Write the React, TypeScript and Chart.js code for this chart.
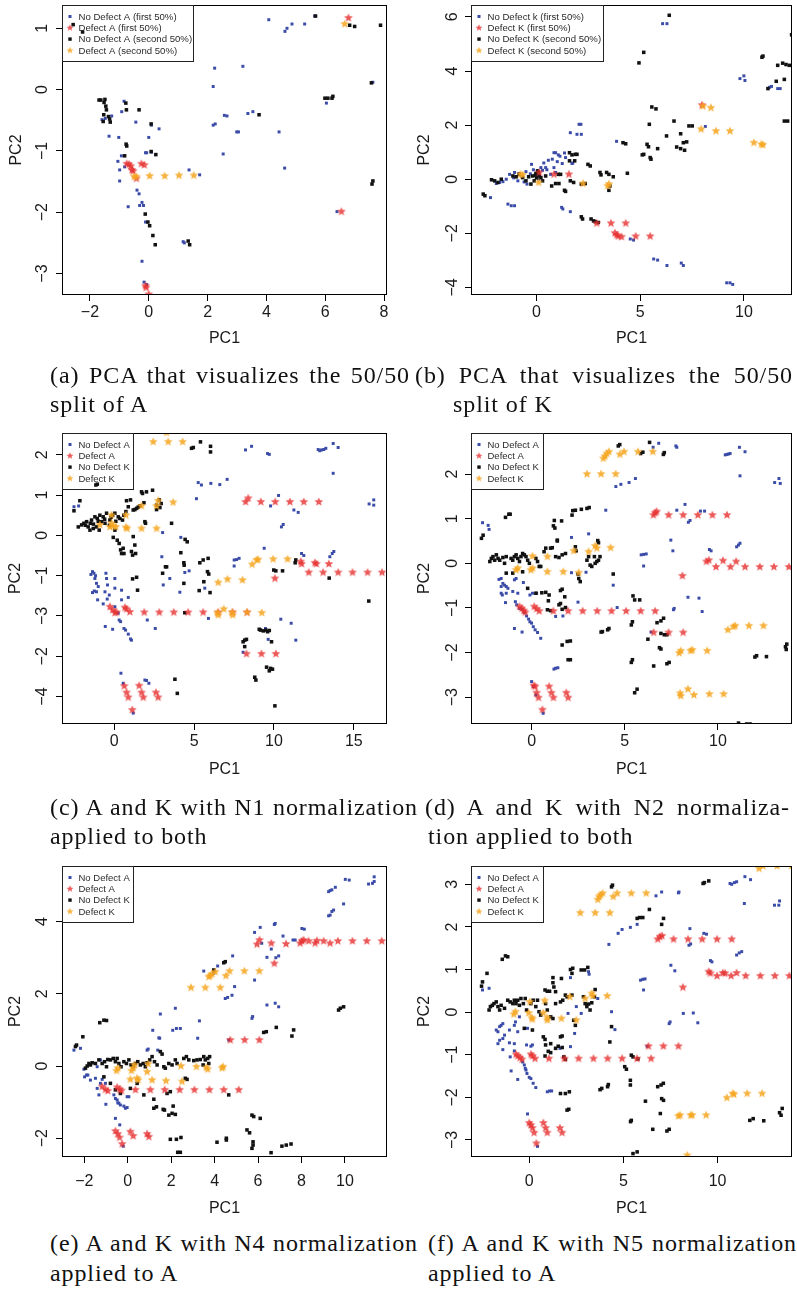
import React, { useEffect, useRef } from "react";
import { Chart, registerables } from "chart.js";
Chart.register(...registerables);

type P = [number, number];

// ---------------- Panel (a) ----------------
const aNoDefectFirst: P[] = [[4.08,1.14],[4.63,0.95],[4.70,1.0],[4.87,1.07],[5.30,1.07],[5.64,1.2],[2.24,0.35],[3.2,0.38],[2.19,0.05],[7.62,0.12],[6.04,-0.22],[2.19,-0.58],[2.26,-0.56],[2.57,-0.42],[2.66,-0.43],[3.37,-0.39],[3.54,-0.36],[2.99,-0.69],[3.05,-0.69],[4.43,-0.69],[2.53,-1.05],[4.62,-1.28],[6.4,-1.99],[0.35,-0.64],[0.09,-0.58],[0.0,-0.78],[-0.44,-0.53],[-0.11,-1.03],[-0.07,-1.03],[0.09,-1.02],[-0.84,-0.19],[-0.92,-0.36],[-1.26,-0.43],[-1.59,-0.49],[-1.48,-0.47],[-1.35,-0.76],[-1.02,-0.78],[-0.93,-1.08],[-1.05,-1.17],[-0.99,-1.31],[-0.82,-1.26],[-0.99,-1.49],[-0.70,-1.91],[-0.40,-1.64],[-0.33,-1.70],[-0.31,-1.89],[-0.23,-1.84],[-0.18,-1.89],[-0.11,-2.16],[1.17,-2.48],[1.21,-2.5],[1.37,-1.31],[1.73,-1.39],[-0.23,-2.80],[-0.16,-3.14],[-0.07,-3.18]];
const aDefectFirst: P[] = [[6.79,1.17],[-0.75,-1.21],[-0.67,-1.22],[-0.61,-1.25],[-0.57,-1.31],[-0.53,-1.33],[-0.42,-1.45],[-0.25,-1.21],[-0.15,-1.23],[6.55,-1.99],[-0.11,-3.2],[-0.09,-3.23],[0.0,-3.34]];
const aNoDefectSecond: P[] = [[-2.57,1.06],[-2.25,0.94],[5.67,1.2],[6.83,1.05],[7.0,1.03],[7.88,1.05],[7.57,0.11],[5.99,-0.14],[6.09,-0.14],[6.23,-0.14],[6.26,-0.11],[3.75,-0.41],[7.59,-1.54],[7.62,-1.49],[-1.69,-0.17],[-1.63,-0.17],[-1.49,-0.16],[-1.52,-0.21],[-1.46,-0.27],[-1.44,-0.33],[-1.53,-0.41],[-1.55,-0.52],[-1.37,-0.44],[-1.33,-0.48],[-1.31,-0.53],[-0.78,-0.22],[-0.76,-0.33],[-0.33,-0.33],[0.08,-0.56],[-0.77,-0.89],[-0.75,-0.92],[-0.82,-1.08],[0.08,-1.01],[0.24,-1.06],[-0.12,-2.03],[-0.03,-2.16],[0.03,-2.22],[0.14,-2.38],[0.22,-2.53],[1.34,-2.47],[1.39,-2.53]];
const aDefectSecond: P[] = [[6.66,1.07],[-0.5,-1.42],[-0.42,-1.42],[0.03,-1.41],[0.54,-1.41],[1.03,-1.40],[1.53,-1.40]];

// ---------------- Panel (b) ----------------
const bNoDefectFirst: P[] = [[6.08,5.75],[6.29,5.75],[9.81,3.72],[10.0,3.82],[10.05,3.65],[11.24,3.40],[11.33,3.43],[11.63,3.35],[11.75,3.35],[2.05,2.03],[2.14,2.03],[1.63,1.72],[1.95,1.66],[2.16,1.66],[3.86,1.40],[8.14,1.95],[0.84,0.98],[0.92,0.98],[1.05,0.90],[1.13,0.85],[1.35,0.97],[0.76,0.74],[0.57,0.70],[0.84,0.43],[0.44,0.43],[0.21,0.43],[-0.24,0.55],[-0.51,0.28],[-0.86,0.21],[-1.06,0.25],[-1.30,0.18],[-1.46,0],[-1.78,-0.12],[-1.94,-0.16],[-1.62,-0.09],[-0.90,-0.06],[-0.46,-0.18],[0.02,0.18],[0.29,0.33],[0.68,0.18],[0.92,0.25],[1.24,0.58],[1.71,0.58],[1.75,0.60],[-2.22,-0.68],[-1.38,-0.92],[-1.22,-0.98],[-1.06,-0.98],[1.21,-1.04],[1.27,-1.1],[1.63,-1.2],[4.52,-2.21],[4.68,-2.25],[5.65,-2.95],[5.84,-2.99],[6.29,-3.19],[6.98,-3.1],[7.08,-3.19],[9.17,-3.83],[9.33,-3.83],[9.46,-3.89],[-0.7,0.1],[-0.3,0.2],[0.1,0.0],[0.5,0.35],[-1.1,0.05],[-0.6,-0.1],[1.0,0.65],[0.35,0.6],[-0.15,0.35],[1.4,0.8]];
const bDefectFirst: P[] = [[7.98,2.74],[0.84,0.18],[1.56,0.18],[2.90,-1.63],[3.59,-1.63],[4.30,-1.63],[3.78,-1.99],[3.86,-2.06],[3.94,-2.11],[4.10,-2.13],[4.78,-2.11],[5.48,-2.11],[0.13,0.25]];
const bNoDefectSecond: P[] = [[6.40,6.06],[12.3,5.34],[4.94,4.30],[5.17,4.69],[10.87,4.51],[10.92,4.55],[11.63,4.21],[11.87,4.29],[12.03,4.24],[12.19,4.21],[11.56,3.62],[11.95,3.69],[11.16,3.35],[11.95,2.15],[12.11,2.15],[5.56,2.67],[5.76,2.60],[5.44,2.03],[6.63,2.15],[7.35,1.97],[7.51,1.97],[6.95,1.68],[6.27,1.60],[7.08,1.35],[7.24,1.38],[6.76,1.19],[6.95,1.13],[7.14,1.07],[4.17,1.35],[4.30,1.31],[5.33,1.29],[5.40,1.2],[5.84,1.13],[5.48,0.8],[5.17,0.92],[5.10,0.9],[5.52,0.74],[4.38,0.22],[1.59,0.98],[1.71,0.90],[1.87,0.92],[1.95,0.92],[1.59,0.68],[1.84,0.68],[2.48,0.55],[2.59,0.49],[-2.57,-0.55],[-2.49,-0.61],[-2.17,-0.02],[-2.02,-0.06],[-1.86,-0.12],[-1.70,0],[-0.19,0.12],[-0.03,0.21],[0.05,0.31],[0.13,0.12],[0.21,0.06],[-0.11,-0.06],[-0.27,-0.18],[0.29,-0.06],[0.44,0.12],[0.73,-0.25],[0.92,-0.16],[1.08,-0.16],[1.05,0.18],[1.16,0.18],[1.35,-0.41],[1.40,-0.45],[1.63,-0.06],[1.79,-0.12],[2.16,-0.18],[2.35,-0.16],[3.06,0.25],[3.11,0.16],[3.38,0.25],[3.49,0.18],[3.70,0.09],[3.54,-0.25],[3.49,-0.41],[2.16,-1.39],[2.22,-1.47],[2.63,-1.47],[2.75,-1.54],[2.83,-1.57],[2.98,-1.6],[-0.83,0.18],[-0.67,0.06],[-0.38,0.09],[-0.51,-0.06],[-0.98,0.09],[-1.14,0.12],[0.0,0.05],[0.1,0.25],[-0.05,0.15]];
const bDefectSecond: P[] = [[8.03,2.70],[8.41,2.64],[7.94,1.85],[8.65,1.78],[9.33,1.78],[10.48,1.35],[10.84,1.29],[10.92,1.27],[-0.78,0.18],[-0.67,0.16],[0.10,-0.12],[2.24,-0.16],[3.43,-0.25],[3.49,-0.18]];

// ---------------- Panel (c) ----------------
const cNoDefectA: P[] = [[8.22,2.12],[8.60,2.21],[9.60,2.03],[9.71,2.01],[12.77,2.13],[12.87,2.10],[12.98,2.12],[13.12,2.13],[13.25,2.16],[13.71,2.28],[14.02,2.18],[13.71,1.54],[15.96,0.78],[16.25,0.88],[16.25,0.75],[5.26,1.31],[5.46,1.25],[6.05,1.29],[6.61,1.26],[7.07,1.39],[5.15,0.91],[10.29,0.99],[9.79,0.73],[10.47,0.21],[10.58,0.27],[11.25,0.63],[11.52,0.57],[3.03,0.07],[4.17,-0.05],[2.98,-0.53],[9.39,-0.32],[11.73,-0.45],[11.87,-0.50],[13.50,-0.53],[13.65,-0.45],[13.75,-0.40],[7.51,-0.61],[7.66,-0.60],[7.82,-0.57],[7.51,-0.76],[4.42,-0.92],[4.69,-0.88],[3.07,-1.23],[3.48,-1.07],[5.67,-1.31],[4.11,-1.41],[-1.46,-0.97],[-1.36,-0.90],[-1.27,-0.94],[-1.17,-1.0],[-1.21,-1.07],[-1.11,-1.19],[-1.0,-1.27],[-1.36,-1.42],[-1.25,-1.38],[-1.11,-1.40],[-1.04,-1.60],[-0.52,-0.94],[-0.48,-1.07],[-0.42,-1.23],[-0.58,-1.40],[-0.44,-1.58],[-0.69,-1.70],[0.04,-1.07],[0.04,-1.31],[-0.31,-1.48],[0.46,-1.36],[0.46,-1.60],[0.88,-1.54],[0.04,-1.77],[0.25,-1.93],[0.31,-2.10],[0.40,-2.14],[0.61,-2.31],[0.71,-2.35],[0.88,-2.45],[1.02,-2.57],[1.08,-2.60],[-0.56,-2.26],[-0.10,-2.33],[2.07,-2.10],[2.57,-2.31],[0.42,-3.42],[0.56,-3.67],[1.92,-3.59],[2.02,-3.60],[2.17,-3.67],[1.19,-4.41],[5.90,-2.06],[10.43,-2.08],[11.08,-2.18],[11.37,-2.60],[9.47,-2.31],[9.64,-2.58],[8.07,-2.90],[-2.52,0.71],[-2.23,0.73]];
const cDefectA: P[] = [[8.22,0.83],[8.39,0.92],[9.18,0.83],[10.08,0.83],[11.0,0.83],[11.87,0.83],[12.81,0.83],[11.68,-0.65],[11.73,-0.71],[12.56,-0.68],[12.66,-0.71],[13.44,-0.71],[12.18,-0.92],[13.08,-0.92],[14.02,-0.92],[14.92,-0.92],[15.86,-0.92],[16.77,-0.92],[10.06,-1.07],[-0.27,-1.77],[-0.10,-1.85],[0.04,-1.92],[0.15,-1.91],[0.67,-1.79],[0.77,-1.83],[0.98,-1.90],[1.88,-1.91],[2.82,-1.91],[3.73,-1.91],[4.63,-1.91],[5.57,-1.91],[6.51,-1.91],[7.41,-1.91],[8.32,-1.91],[8.28,-2.94],[9.22,-2.94],[10.12,-2.94],[0.63,-3.74],[0.77,-3.90],[0.88,-4.02],[1.56,-3.73],[1.71,-3.90],[1.82,-4.02],[2.61,-3.90],[2.75,-4.02],[1.13,-4.33]];
const cNoDefectK: P[] = [[-2.52,0.61],[-2.15,0.86],[-2.25,0.21],[-2.04,0.26],[-1.90,0.30],[-1.73,0.34],[-1.63,0.21],[-1.42,0.38],[-1.21,0.46],[-1.06,0.42],[-0.90,0.50],[-0.69,0.46],[-0.48,0.55],[-0.79,0.34],[-0.58,0.30],[-1.11,0.21],[-1.31,0.17],[-1.52,0.13],[-0.94,0.13],[-0.27,0.38],[-0.10,0.50],[0.04,0.55],[0.25,0.46],[0.35,0.42],[0.52,0.38],[0.73,0.59],[0.88,0.71],[0.77,0.86],[1.02,0.88],[1.19,0.63],[1.29,0.64],[1.40,0.67],[1.61,0.73],[1.71,1.08],[1.77,1.04],[2.02,1.08],[2.40,1.12],[1.86,0.81],[2.82,0.88],[2.94,0.79],[2.86,0.69],[2.65,0.75],[2.65,0.64],[1.92,0.34],[1.96,0.30],[0.04,0.13],[-0.06,-0.05],[0.19,-0.12],[0.31,-0.20],[0.40,-0.36],[0.56,-0.32],[0.61,-0.45],[0.46,-0.45],[1.08,-0.40],[1.19,-0.03],[1.29,-0.24],[1.15,-0.49],[1.34,-0.45],[-1.15,1.25],[-1.06,1.27],[3.59,0.30],[4.44,-0.10],[4.57,-0.16],[4.17,-0.43],[4.36,-0.68],[4.38,-0.74],[4.84,2.16],[4.95,2.18],[5.40,2.32],[6.03,2.21],[6.03,2.07],[4.36,-1.19],[5.36,-0.68],[5.57,-0.61],[5.88,-0.57],[5.84,-0.90],[5.92,-0.96],[5.32,-1.37],[5.61,-1.15],[6.0,-1.42],[3.03,-0.94],[3.28,-0.78],[3.21,-0.78],[1.40,-1.04],[1.15,-1.08],[1.46,-1.36],[4.42,-1.92],[3.80,-3.57],[3.95,-3.92],[9.99,-0.86],[10.12,-0.88],[10.54,-0.88],[11.33,-0.68],[11.37,-0.61],[13.46,-1.06],[15.94,-1.63],[8.07,-2.64],[8.17,-2.60],[8.28,-2.58],[8.17,-2.76],[9.16,-2.35],[9.33,-2.37],[9.49,-2.35],[9.60,-2.39],[9.71,-2.36],[9.85,-2.64],[9.54,-3.27],[9.79,-3.30],[9.91,-3.32],[9.71,-3.36],[8.80,-3.52],[8.87,-3.59],[10.06,-4.23],[9.08,-2.33],[-1.8,0.25],[-1.5,0.3],[-1.0,0.35],[-0.3,0.25],[0.1,0.35],[-0.6,0.4],[-1.3,0.28],[-0.2,0.45],[0.6,0.5],[1.5,0.7]];
const cDefectK: P[] = [[2.44,2.32],[3.38,2.32],[4.28,2.32],[3.28,2.55],[2.75,0.86],[2.65,0.73],[3.69,0.82],[1.71,0.73],[-0.17,0.50],[0.73,0.50],[-0.90,0.26],[-0.27,0.21],[-0.06,0.23],[0.10,0.21],[0.73,0.20],[0.81,0.17],[1.71,0.17],[2.65,0.17],[-0.17,0.30],[8.64,-0.72],[8.91,-0.61],[9.01,-0.60],[9.95,-0.59],[10.85,-0.59],[6.51,-1.17],[7.09,-1.09],[8.03,-1.11],[6.47,-1.92],[6.51,-1.98],[6.86,-1.83],[7.39,-1.91],[7.41,-1.98],[8.32,-1.91],[9.24,-1.92]];

// ---------------- Panel (d) ----------------
const dNoDefectA: P[] = [[6.52,2.60],[6.82,2.69],[7.74,2.63],[7.79,2.60],[10.39,2.43],[10.48,2.44],[10.57,2.45],[10.65,2.46],[11.15,2.60],[11.45,2.50],[11.18,1.96],[13.04,1.81],[13.27,1.90],[13.34,1.79],[4.52,1.72],[4.79,1.77],[5.23,1.81],[5.57,1.90],[3.98,1.19],[7.79,1.19],[8.23,1.32],[8.41,0.92],[8.50,0.96],[9.06,1.17],[9.28,1.17],[2.14,0.58],[3.06,0.66],[7.47,0.52],[7.58,0.28],[5.88,0.19],[6.01,0.20],[6.15,0.21],[6.01,-0.06],[9.54,0.31],[9.63,0.28],[11.0,0.37],[11.10,0.41],[11.18,0.45],[2.14,-0.21],[2.92,-0.20],[4.38,-0.49],[2.49,-0.87],[4.59,-0.99],[7.65,-1.01],[7.61,-1.04],[8.39,-0.76],[8.98,-0.78],[9.15,-1.08],[6.41,-1.54],[1.29,-1.19],[1.68,-1.18],[1.20,-2.37],[1.29,-2.35],[1.41,-2.34],[0,-2.65],[0.09,-2.76],[0.23,-2.95],[0.62,-3.36],[-2.63,0.91],[-2.33,0.85],[-2.28,0.76],[-1.75,-0.36],[-1.63,-0.34],[-1.54,-0.45],[-1.45,-0.49],[-1.36,-0.52],[-1.27,-0.56],[-1.63,-0.67],[-1.57,-0.71],[-1.36,-0.67],[-1.40,-0.88],[-0.92,-0.37],[-0.83,-0.34],[-1.01,-0.63],[-0.74,-0.67],[-0.87,-0.86],[-0.80,-0.93],[-0.65,-1.01],[-0.51,-1.03],[-0.44,-0.43],[-0.39,-1.10],[-0.27,-1.18],[-0.16,-1.25],[-0.09,-1.31],[0,-1.34],[0.09,-1.42],[0.19,-1.49],[0.32,-1.55],[0.49,-1.68],[-0.09,-0.71],[0.05,-0.67],[0.27,-0.67],[-0.92,-1.46],[-0.51,-1.54],[-1.63,-0.52]];
const dDefectA: P[] = [[6.54,1.08],[6.63,1.13],[6.71,1.16],[7.35,1.08],[8.13,1.08],[8.92,1.08],[9.70,1.08],[10.48,1.08],[9.38,0.04],[9.51,0.07],[10.27,0.06],[10.97,0.04],[9.89,-0.08],[10.67,-0.08],[11.45,-0.08],[12.24,-0.08],[13.0,-0.08],[13.80,-0.08],[8.09,-0.28],[-0.65,-0.97],[-0.53,-1.01],[-0.42,-1.06],[-0.34,-1.10],[0.14,-0.97],[0.27,-1.02],[0.41,-1.07],[1.17,-1.07],[1.96,-1.07],[2.74,-1.07],[3.52,-1.07],[4.29,-1.07],[5.07,-1.07],[5.85,-1.07],[6.63,-1.07],[6.55,-1.55],[7.35,-1.55],[8.13,-1.55],[0.11,-2.74],[0.19,-2.76],[0.27,-2.90],[0.37,-3.01],[0.94,-2.76],[1.06,-2.90],[1.17,-3.01],[1.86,-2.90],[1.96,-3.01],[0.58,-3.28]];
const dNoDefectK: P[] = [[6.33,2.71],[5.97,2.49],[5.85,2.46],[7.07,2.44],[7.12,2.48],[4.65,2.63],[4.73,2.66],[2.21,1.18],[2.17,1.08],[2.35,1.19],[2.67,1.21],[2.97,1.23],[3.09,1.25],[-1.40,1.03],[-1.22,1.10],[-1.15,1.10],[-2.60,0.63],[-2.69,0.56],[1.22,0.96],[1.61,0.95],[1.17,0.84],[1.25,0.79],[1.38,0.52],[1.38,0.50],[3.55,0.51],[3.59,0.46],[2.35,0.37],[2.39,0.28],[-2.24,0.04],[-2.16,0.11],[-2.07,0.15],[-1.98,0.07],[-1.89,0.19],[-1.80,0.11],[-1.71,0.07],[-1.54,0.13],[-1.36,0.15],[-1.10,0.11],[-1.01,0.07],[-0.92,0.15],[-0.83,0.19],[-0.74,0.11],[-0.65,0.04],[-0.57,0.15],[-0.48,0.22],[-0.39,0.19],[-0.30,0.15],[-0.21,0.07],[-0.12,0],[0.23,0.11],[0.32,0.04],[0.41,-0.07],[0.49,-0.07],[0.67,0.26],[0.76,0.34],[1.02,0.34],[1.11,0.35],[1.29,0.15],[1.47,0.13],[1.64,0.19],[1.82,0.22],[-1.45,0],[-1.36,-0.22],[-1.01,-0.22],[-0.48,-0.19],[-0.21,-0.56],[0.23,-0.67],[0.55,-0.66],[0.76,-0.65],[0.94,-0.71],[0.90,-0.84],[0.85,-1.04],[1.02,-1.06],[1.47,-0.93],[1.55,-0.61],[1.64,-0.58],[1.78,-0.75],[1.55,-0.90],[1.64,-1.03],[1.82,-0.99],[2.49,-0.24],[2.53,-0.34],[2.61,-0.41],[3.14,-0.04],[3.23,-0.07],[3.37,0.15],[3.41,0],[3.50,0.04],[3.59,0.07],[3.67,0.15],[3.06,0.15],[2.97,0.07],[4.38,-0.24],[3.73,-1.54],[3.80,-1.53],[4.08,-1.49],[4.15,-1.46],[1.64,-1.83],[1.91,-1.75],[2.08,-1.74],[1.96,-2.16],[2.08,-2.16],[5.44,-0.73],[5.53,-0.82],[5.80,-0.82],[5.35,-1.38],[5.41,-1.31],[6.24,-1.70],[6.73,-1.33],[6.94,-1.29],[7.08,-1.23],[6.94,-1.57],[7.12,-1.60],[7.26,-1.60],[6.86,-1.89],[6.94,-1.92],[5.41,-2.16],[5.35,-2.22],[6.55,-2.30],[7.26,-2.25],[7.38,-2.22],[5.53,-2.90],[5.66,-2.82],[11.98,-2.10],[12.07,-2.07],[12.60,-2.09],[13.62,-1.87],[13.66,-1.93],[13.69,-1.81],[11.10,-3.58],[11.54,-3.60],[11.72,-3.60]];
const dDefectK: P[] = [[2.97,2.0],[3.73,2.0],[4.51,2.0],[3.85,2.35],[3.94,2.40],[4.03,2.46],[4.15,2.50],[4.73,2.44],[4.96,2.50],[5.71,2.50],[6.50,2.50],[-0.83,-0.15],[-0.74,-0.11],[-0.04,-0.15],[0.05,-0.11],[0.05,0.16],[0.85,-0.19],[0.85,0.15],[1.70,-0.19],[2.26,0.28],[3.06,0.26],[3.41,0.39],[3.50,0.34],[4.24,0.35],[2.53,-0.21],[10.53,-1.49],[10.83,-1.42],[10.92,-1.40],[11.66,-1.40],[12.44,-1.40],[7.92,-2.01],[8.00,-1.96],[8.53,-1.96],[8.62,-1.94],[9.42,-1.96],[7.97,-2.91],[8.00,-2.97],[8.39,-2.82],[8.71,-2.95],[9.54,-2.93],[10.30,-2.93]];

// ---------------- Panel (e) ----------------
const eNoDefectA: P[] = [[10.02,5.17],[10.20,5.15],[11.09,5.04],[11.27,5.06],[11.35,5.11],[11.35,5.24],[9.25,4.83],[9.32,4.86],[9.40,4.88],[9.56,4.95],[9.94,4.49],[9.25,4.16],[9.32,4.18],[9.40,4.28],[9.48,4.32],[5.84,3.70],[6.10,3.84],[6.75,3.92],[6.79,3.95],[7.15,3.60],[7.61,3.49],[7.71,3.49],[8.02,3.81],[8.13,3.79],[6.17,3.40],[6.61,3.24],[6.41,3.01],[6.82,3.0],[6.95,3.05],[4.83,3.05],[3.50,2.63],[4.14,2.77],[3.96,2.57],[4.92,2.20],[4.49,1.87],[4.60,1.90],[4.80,1.96],[5.84,2.38],[5.72,1.32],[5.75,1.37],[6.41,1.69],[6.79,1.74],[6.95,1.64],[2.19,1.60],[1.50,1.44],[3.30,1.25],[1.15,0.99],[2.07,0.99],[2.24,1.04],[2.42,1.04],[3.22,0.77],[1.43,0.78],[1.47,0.77],[0.89,0.44],[0.94,0.47],[1.38,0.44],[4.65,0.72],[-2.48,0.44],[-2.18,0.49],[-2.02,-0.09],[-1.99,-0.30],[-1.90,-0.25],[-1.84,-0.25],[-1.72,-0.39],[-1.49,-0.34],[-1.41,-0.02],[-1.26,0.17],[-1.41,-0.62],[-1.33,-0.80],[-1.26,-0.48],[-1.18,-0.37],[-1.01,-1.06],[-1.03,-0.48],[-0.64,-0.80],[-0.57,-0.90],[-0.49,-0.94],[-0.46,-1.02],[-0.41,-1.03],[-0.34,-1.08],[-0.18,-1.11],[-0.11,-1.17],[-0.03,-1.15],[-0.03,-0.85],[0.05,-0.85],[-0.57,-1.45],[-0.37,-1.63],[-0.21,-2.22]];
const eDefectA: P[] = [[6.07,3.49],[5.95,3.37],[6.61,3.40],[7.29,3.38],[7.94,3.40],[8.02,3.46],[8.10,3.49],[8.33,3.46],[8.63,3.40],[8.71,3.47],[9.02,3.46],[9.32,3.40],[9.68,3.46],[10.35,3.46],[11.01,3.46],[11.70,3.46],[6.75,2.84],[4.72,0.72],[5.38,0.72],[6.06,0.72],[-1.18,-0.57],[-1.03,-0.65],[-0.92,-0.69],[-0.49,-0.59],[-0.37,-0.65],[-0.29,-0.68],[0.35,-0.66],[1.04,-0.66],[1.70,-0.66],[2.39,-0.66],[3.07,-0.66],[3.76,-0.66],[4.42,-0.66],[5.11,-0.66],[-0.57,-1.80],[-0.46,-1.88],[-0.38,-1.98],[0.12,-1.82],[0.25,-1.94],[0.89,-1.88],[0.97,-1.96],[-0.26,-2.16]];
const eNoDefectK: P[] = [[9.71,1.55],[9.79,1.60],[9.94,1.64],[6.26,0.93],[6.38,0.95],[6.84,1.07],[7.56,0.83],[7.64,1.0],[4.42,2.86],[4.49,2.89],[3.96,2.66],[-1.29,1.20],[-1.10,1.27],[-0.98,1.26],[-2.07,0.81],[-2.41,0.54],[-2.36,0.58],[-1.95,-0.06],[-1.87,0],[-1.79,0.07],[-1.72,0.03],[-1.64,0.09],[-1.49,0.07],[-1.33,0.17],[-1.18,0.07],[-1.07,0.12],[-0.98,-0.02],[-0.92,0.18],[-0.80,0.17],[-0.67,0.21],[-0.57,0.12],[-0.49,0.21],[-0.41,0.07],[-0.31,-0.02],[-0.18,0.12],[-0.06,0.07],[0.05,0.17],[0.15,0.03],[0.25,-0.02],[0.35,0.07],[0.46,0.12],[0.58,0.03],[0.71,0.07],[0.81,-0.02],[0.89,0.09],[1.01,0.17],[1.12,0.26],[1.23,0.12],[1.35,0.03],[1.50,0.40],[1.58,0.33],[1.66,-0.02],[1.73,-0.06],[1.89,0.07],[2.04,0.03],[2.19,0.17],[2.27,0.07],[2.58,0.21],[2.70,0.26],[2.81,0.17],[3.04,0.15],[3.19,0.17],[3.34,0.18],[3.50,0.26],[3.57,0.17],[3.68,0.21],[3.77,0.26],[3.73,0.07],[3.47,0.03],[2.65,-0.34],[2.73,-0.37],[-1.10,-0.30],[-0.80,-0.48],[-0.57,-0.66],[-0.34,-0.76],[0.12,-0.62],[0.43,-0.48],[0.74,-0.80],[1.20,-0.92],[1.20,-1.17],[1.32,-1.13],[1.63,-1.20],[1.69,-1.22],[1.89,-1.36],[2.04,-1.31],[2.19,-1.34],[2.09,-1.11],[1.81,-0.76],[1.96,-0.71],[4.65,-0.80],[5.72,-1.36],[5.80,-1.40],[6.10,-1.45],[5.49,-1.77],[5.61,-1.85],[5.77,-2.10],[5.77,-2.19],[5.72,-2.28],[4.11,-2.11],[4.54,-2.05],[4.54,-2.0],[1.96,-2.03],[2.24,-2.03],[2.45,-1.98],[2.30,-2.39],[2.42,-2.39],[6.60,-2.40],[7.10,-2.22],[7.30,-2.19],[7.52,-2.16]];
const eDefectK: P[] = [[2.91,2.17],[3.57,2.17],[4.26,2.17],[3.73,2.47],[3.80,2.50],[3.88,2.55],[4.03,2.61],[4.52,2.50],[4.69,2.63],[5.37,2.63],[6.06,2.63],[-0.52,-0.13],[-0.46,-0.06],[0.17,-0.13],[0.25,-0.06],[0.31,0.03],[0.43,-0.34],[0.48,-0.39],[0.89,-0.16],[0.94,0.06],[1.12,-0.39],[1.76,-0.41],[2.45,0],[2.50,-0.43],[3.16,-0.02],[3.62,-0.04],[3.68,-0.09],[4.34,-0.06],[4.39,-0.02],[0.12,-0.37]];

// ---------------- Panel (f) ----------------
const fNoDefectA: P[] = [[10.66,3.02],[10.75,3.0],[10.89,3.04],[11.01,3.06],[11.45,3.18],[11.75,3.11],[11.42,2.55],[13.02,2.51],[13.25,2.51],[13.29,2.61],[6.73,2.73],[7.03,2.82],[7.92,2.80],[7.95,2.82],[8.53,1.96],[9.27,1.85],[9.41,1.83],[8.48,1.57],[8.57,1.60],[4.72,1.85],[4.93,1.94],[5.37,1.99],[5.73,2.06],[4.23,1.59],[11.01,1.34],[11.15,1.39],[11.28,1.42],[9.62,1.21],[9.70,1.18],[7.52,1.10],[7.73,0.97],[5.91,0.75],[6.03,0.77],[6.15,0.78],[6.07,0.52],[8.18,-0.03],[8.71,-0.02],[8.95,-0.25],[7.43,-0.27],[7.48,-0.23],[3.18,0.89],[3.64,0.32],[2.50,0.13],[2.76,-0.03],[4.37,0.01],[4.55,-0.41],[2.06,-0.03],[2.41,-0.50],[6.26,-0.80],[-2.48,0.52],[-2.13,0.56],[-1.75,-0.42],[-1.66,-0.46],[-1.57,-0.34],[-1.49,-0.31],[-1.40,-0.27],[-1.66,-0.74],[-1.57,-0.66],[-1.40,-0.62],[-1.31,-0.54],[-1.40,-0.88],[-1.05,-0.42],[-0.79,-0.31],[-0.73,-0.23],[-0.61,-0.46],[-1.05,-0.72],[-0.79,-0.74],[-0.52,-0.11],[-1.01,-1.05],[-0.96,-1.38],[-0.61,-1.58],[-0.79,-0.91],[-0.35,-1.17],[-0.26,-1.24],[-0.21,-1.32],[-0.17,-1.36],[-0.12,-1.44],[0,-1.53],[0.09,-1.56],[0.21,-1.67],[0.35,-1.77],[-0.14,-0.77],[0.09,-0.80],[0.17,-0.77],[-0.09,-0.38],[0.96,-1.87],[1.08,-1.85],[1.19,-1.85],[-0.09,-2.39],[0.44,-3.15],[1.40,-0.85],[1.63,-0.85],[2.19,-0.81],[3.15,0.95],[2.19,0.81]];
const fDefectA: P[] = [[6.82,1.71],[6.94,1.77],[7.05,1.79],[7.66,1.71],[8.43,1.71],[9.18,1.71],[9.97,1.71],[10.75,1.71],[9.53,0.95],[9.62,0.91],[10.28,0.92],[10.40,0.91],[11.01,0.92],[9.97,0.85],[10.72,0.85],[11.49,0.85],[12.27,0.85],[13.04,0.85],[13.81,0.85],[8.16,0.58],[-0.70,-0.99],[-0.61,-1.03],[-0.49,-1.07],[-0.38,-1.11],[0.09,-0.99],[0.17,-1.03],[0.31,-1.09],[1.05,-1.09],[1.87,-1.09],[2.62,-1.09],[3.41,-1.09],[4.16,-1.09],[4.93,-1.09],[5.72,-1.09],[6.47,-1.09],[6.33,-0.80],[7.12,-0.80],[7.92,-0.80],[0,-2.60],[0.09,-2.65],[0.17,-2.72],[0.26,-2.83],[0.75,-2.60],[0.87,-2.72],[0.96,-2.83],[1.63,-2.72],[1.75,-2.83],[0.38,-3.08]];
const fNoDefectK: P[] = [[4.37,2.94],[4.42,2.98],[9.23,3.02],[9.30,3.04],[9.53,3.08],[6.38,2.41],[5.73,2.20],[5.86,2.22],[6.03,2.22],[7.13,2.20],[7.03,2.06],[-1.43,1.24],[-1.26,1.32],[-1.14,1.30],[-2.24,0.91],[-2.53,0.61],[-2.48,0.71],[2.19,1.0],[2.31,1.03],[2.27,0.91],[2.76,0.99],[2.94,0.99],[3.11,1.05],[1.26,0.81],[1.71,0.79],[1.26,0.69],[1.31,0.59],[1.40,0.48],[0.84,0.52],[0.96,0.49],[1.08,0.49],[-2.13,0.05],[-2.06,0.13],[-1.96,0.16],[-1.87,0.20],[-1.75,0.24],[-1.66,0.13],[-1.57,0.05],[-1.49,0.16],[-1.31,0.09],[-1.14,0.28],[-1.01,0.24],[-0.87,0.20],[-0.79,0.28],[-0.70,0.20],[-0.61,0.28],[-0.52,0.16],[-0.44,0.32],[-0.31,0.20],[-0.21,0.32],[-0.14,0.05],[0.09,0.20],[0.21,0.28],[0.35,0.13],[0.44,0.28],[0.52,0.01],[0.61,-0.07],[0.87,0.20],[0.96,0.05],[1.14,-0.11],[1.26,-0.15],[1.40,0.20],[1.66,0.24],[1.78,0.28],[1.92,0.40],[2.01,0.36],[2.27,0.40],[2.88,0.36],[2.97,0.20],[3.06,0.13],[3.15,0.19],[3.23,0.05],[3.32,0.22],[3.46,0.36],[3.50,0.53],[2.36,-0.19],[2.45,-0.31],[-0.26,-0.38],[0.17,-0.42],[0.75,-0.58],[0.84,-0.64],[0.87,-0.77],[1.01,-0.92],[0.84,-1.03],[1.14,-0.74],[1.14,-0.95],[1.40,-0.85],[1.54,-0.80],[1.66,-0.58],[1.75,-0.56],[1.75,-0.83],[1.84,-1.05],[1.92,-1.11],[2.01,-2.30],[2.10,-2.28],[1.66,-1.91],[1.92,-1.91],[2.13,-1.87],[4.28,-0.70],[4.37,-0.34],[3.76,-1.82],[3.85,-1.79],[4.16,-1.75],[4.20,-1.70],[5.42,-1.01],[5.51,-1.05],[5.77,-1.10],[5.07,-1.28],[5.16,-1.34],[5.37,-1.60],[5.37,-1.71],[5.38,-2.57],[5.42,-2.54],[6.17,-2.09],[6.56,-2.75],[6.82,-1.75],[7.0,-1.71],[7.12,-1.67],[6.96,-2.38],[7.03,-2.03],[7.13,-2.07],[7.31,-2.79],[7.43,-2.75],[5.51,-3.32],[5.73,-3.28],[11.71,-2.54],[11.89,-2.50],[12.45,-2.55],[13.29,-2.36],[13.37,-2.42],[13.43,-2.26]];
const fDefectK: P[] = [[2.71,2.33],[3.50,2.33],[4.28,2.33],[3.64,2.64],[3.71,2.71],[3.79,2.75],[3.90,2.79],[4.46,2.71],[4.67,2.79],[5.42,2.79],[6.21,2.79],[12.20,3.37],[12.41,3.43],[13.16,3.43],[13.93,3.43],[-0.82,-0.05],[-0.73,0.01],[-0.03,-0.02],[0.03,0.24],[0.14,-0.13],[0.17,-0.17],[0.75,-0.02],[0.82,0.27],[0.96,-0.13],[0.96,-0.19],[1.71,-0.15],[2.15,0.36],[2.50,-0.19],[2.97,0.32],[3.32,0.44],[3.37,0.38],[4.14,0.38],[10.49,-2.01],[10.80,-1.91],[10.87,-1.93],[11.57,-1.91],[12.36,-1.91],[7.92,-2.44],[8.01,-2.42],[8.57,-2.42],[8.65,-2.42],[9.39,-2.42],[8.39,-3.36]];

// ---------------- Ticks & labels ----------------
const xTicksA = [-2, 0, 2, 4, 6, 8];
const yTicksA = [-3, -2, -1, 0, 1];
const xTicksB = [0, 5, 10];
const yTicksB = [-4, -2, 0, 2, 4, 6];
const xTicksC = [0, 5, 10, 15];
const yTicksC = [-4, -3, -2, -1, 0, 1, 2];
const yTickLabelsC = ["\u22124", "\u22122", "\u22123", "\u22121", "0", "1", "2"];
const xTicksD = [0, 5, 10];
const yTicksD = [-3, -2, -1, 0, 1, 2];
const xTicksE = [-2, 0, 2, 4, 6, 8, 10];
const yTicksE = [-2, 0, 2, 4];
const xTicksF = [0, 5, 10];
const yTicksF = [-3, -2, -1, 0, 1, 2, 3];

const legendA = ["No Defect A (first 50%)", "Defect A (first 50%)", "No Defect A (second 50%)", "Defect A (second 50%)"];
const legendB = ["No Defect k (first 50%)", "Defect K (first 50%)", "No Defect K (second 50%)", "Defect K (second 50%)"];
const legendAK = ["No Defect A", "Defect A", "No Defect K", "Defect K"];

const SANS = '"Liberation Sans", Arial, Helvetica, sans-serif';
const SERIF = '"Liberation Serif", "Times New Roman", serif';
const BLUE = "#3a4ba8";
const BLACK = "#111111";
const RED = "rgba(230,48,48,0.8)";
const ORANGE = "rgba(246,166,32,0.85)";
const TXT = "#1a1a1a";

const fmt = (v: number) => (v < 0 ? "\u2212" + Math.abs(v) : String(v));

function starCanvas(color: string, r: number) {
  const s = Math.ceil(2 * r + 2);
  const c = document.createElement("canvas");
  c.width = s;
  c.height = s;
  const g = c.getContext("2d")!;
  g.beginPath();
  for (let i = 0; i < 10; i++) {
    const rr = i % 2 ? r * 0.45 : r;
    const a = -Math.PI / 2 + (i * Math.PI) / 5;
    const px = s / 2 + rr * Math.cos(a);
    const py = s / 2 + rr * Math.sin(a);
    if (i) g.lineTo(px, py);
    else g.moveTo(px, py);
  }
  g.closePath();
  g.fillStyle = color;
  g.fill();
  return c;
}

interface Cfg {
  left: number; top: number; width: number; height: number;
  area: { l: number; r: number; t: number; b: number };
  xr: [number, number]; yr: [number, number];
  xTicks: number[]; yTicks: number[]; yLabels: string[];
  legend: string[]; legendW: number; legendFont: number;
  tickGap: number; titleGap: number; yLabOff: number; pc2Off: number;
  series: P[][]; // [noDefect1, defect1, noDefect2, defect2]
}

const toXY = (arr: P[]) => arr.map(([x, y]) => ({ x, y }));

function Panel({ cfg }: { cfg: Cfg }) {
  const ref = useRef<HTMLCanvasElement>(null);
  useEffect(() => {
    const canvas = ref.current!;
    const bigRed = starCanvas(RED, 4.6);
    const bigOrange = starCanvas(ORANGE, 4.6);
    const smRed = starCanvas(RED, 3.6);
    const smOrange = starCanvas(ORANGE, 3.6);
    const { area } = cfg;
    const padTop = area.t - cfg.top;
    const padRight = cfg.left + cfg.width - area.r;
    const yAxisW = area.l - cfg.left;
    const xAxisH = cfg.top + cfg.height - area.b;

    const deco = {
      id: "deco",
      afterDatasetsDraw(chart: any) {
        const ctx = chart.ctx;
        const ca = chart.chartArea;
        ctx.save();
        ctx.strokeStyle = "#000";
        ctx.lineWidth = 1;
        ctx.strokeRect(Math.round(ca.left) + 0.5, Math.round(ca.top) + 0.5, Math.round(ca.right - ca.left) - 1, Math.round(ca.bottom - ca.top) - 1);
        const lx = Math.round(ca.left) + 0.5;
        const ly = Math.round(ca.top) + 0.5;
        ctx.strokeStyle = "#222";
        ctx.strokeRect(lx, ly, cfg.legendW, 56);
        ctx.font = `${cfg.legendFont}px ${SANS}`;
        ctx.textAlign = "left";
        ctx.textBaseline = "middle";
        cfg.legend.forEach((t, i) => {
          const ry = ly + 11 + i * 11.3;
          const sx = lx + 7.5;
          if (i === 0) { ctx.fillStyle = BLUE; ctx.fillRect(sx - 1.5, ry - 1.5, 3, 3); }
          if (i === 2) { ctx.fillStyle = BLACK; ctx.fillRect(sx - 1.7, ry - 1.7, 3.4, 3.4); }
          if (i === 1) ctx.drawImage(smRed, sx - smRed.width / 2, ry - smRed.height / 2);
          if (i === 3) ctx.drawImage(smOrange, sx - smOrange.width / 2, ry - smOrange.height / 2);
          ctx.fillStyle = "#2a2a2a";
          ctx.fillText(t, lx + 16, ry + 0.5);
        });
        ctx.restore();
      },
      afterDraw(chart: any) {
        const ctx = chart.ctx;
        const ys = chart.scales.y;
        const ca = chart.chartArea;
        ctx.save();
        ctx.font = `16px ${SANS}`;
        ctx.fillStyle = TXT;
        ctx.textAlign = "center";
        ctx.textBaseline = "middle";
        cfg.yTicks.forEach((v, i) => {
          const py = ys.getPixelForValue(v);
          ctx.save();
          ctx.translate(ca.left - cfg.yLabOff, py);
          ctx.rotate(-Math.PI / 2);
          ctx.fillText(cfg.yLabels[i], 0, 0);
          ctx.restore();
        });
        ctx.restore();
      },
    };

    const gridOpts = { display: true, drawOnChartArea: false, drawTicks: true, tickLength: 6, color: "#000", lineWidth: 1 };
    const chart = new Chart(canvas, {
      type: "scatter",
      data: {
        datasets: [
          { label: cfg.legend[3], data: toXY(cfg.series[3]), pointStyle: bigOrange as any, pointRadius: 4, order: 0, clip: 0 },
          { label: cfg.legend[1], data: toXY(cfg.series[1]), pointStyle: bigRed as any, pointRadius: 4, order: 1, clip: 0 },
          { label: cfg.legend[2], data: toXY(cfg.series[2]), pointStyle: "rect", pointRadius: 2.5, pointBorderWidth: 0, pointBackgroundColor: BLACK, backgroundColor: BLACK, order: 2, clip: 0 },
          { label: cfg.legend[0], data: toXY(cfg.series[0]), pointStyle: "rect", pointRadius: 2.1, pointBorderWidth: 0, pointBackgroundColor: BLUE, backgroundColor: BLUE, order: 3, clip: 0 },
        ] as any,
      },
      options: {
        animation: false,
        responsive: false,
        devicePixelRatio: 1,
        events: [],
        layout: { padding: { top: padTop, right: padRight, left: 0, bottom: 0 } },
        plugins: { legend: { display: false }, tooltip: { enabled: false } },
        scales: {
          x: {
            type: "linear",
            min: cfg.xr[0],
            max: cfg.xr[1],
            afterBuildTicks: (s: any) => { s.ticks = cfg.xTicks.map((v) => ({ value: v })); },
            afterFit: (s: any) => { s.height = xAxisH; },
            grid: gridOpts,
            border: { display: false },
            ticks: { autoSkip: false, maxRotation: 0, minRotation: 0, color: TXT, font: { family: SANS, size: 16, lineHeight: 1.2 }, padding: cfg.tickGap - 6 - 9.6, callback: (v: any) => fmt(Number(v)) },
            title: { display: true, text: "PC1", color: TXT, font: { family: SANS, size: 16, lineHeight: 1.2 }, padding: { top: 0, bottom: xAxisH - cfg.titleGap - 9.6 } },
          },
          y: {
            type: "linear",
            min: cfg.yr[0],
            max: cfg.yr[1],
            afterBuildTicks: (s: any) => { s.ticks = cfg.yTicks.map((v) => ({ value: v })); },
            afterFit: (s: any) => { s.width = yAxisW; },
            grid: gridOpts,
            border: { display: false },
            ticks: { display: false, autoSkip: false },
            title: { display: true, text: "PC2", color: TXT, font: { family: SANS, size: 16, lineHeight: 1.2 }, padding: { top: yAxisW - cfg.pc2Off - 9.6, bottom: 0 } },
          },
        } as any,
      },
      plugins: [deco as any],
    });
    return () => chart.destroy();
  }, []);
  return (
    <canvas
      ref={ref}
      width={cfg.width}
      height={cfg.height}
      style={{ position: "absolute", left: cfg.left, top: cfg.top, width: cfg.width, height: cfg.height }}
    />
  );
}

const LH = { l: 0, w: 398 };
const RH = { l: 398, w: 399 };

const panels: Cfg[] = [
  { left: LH.l, top: 0, width: LH.w, height: 365, area: { l: 62, r: 387, t: 4, b: 295 }, xr: [-2.95, 8.1], yr: [-3.35, 1.38], xTicks: xTicksA, yTicks: yTicksA, yLabels: yTicksA.map(fmt), legend: legendA, legendW: 131, legendFont: 9.6, tickGap: 18, titleGap: 44, yLabOff: 19, pc2Off: 45, series: [aNoDefectFirst, aDefectFirst, aNoDefectSecond, aDefectSecond] },
  { left: RH.l, top: 0, width: RH.w, height: 365, area: { l: 471, r: 796, t: 4, b: 295 }, xr: [-3.16, 12.32], yr: [-4.28, 6.44], xTicks: xTicksB, yTicks: yTicksB, yLabels: yTicksB.map(fmt), legend: legendB, legendW: 132, legendFont: 9.6, tickGap: 18, titleGap: 44, yLabOff: 18, pc2Off: 46, series: [bNoDefectFirst, bDefectFirst, bNoDefectSecond, bDefectSecond] },
  { left: LH.l, top: 420, width: LH.w, height: 374, area: { l: 62, r: 387, t: 433, b: 724 }, xr: [-3.27, 17.08], yr: [-4.68, 2.54], xTicks: xTicksC, yTicks: yTicksC, yLabels: yTickLabelsC, legend: legendAK, legendW: 71, legendFont: 9.5, tickGap: 18, titleGap: 46, yLabOff: 19, pc2Off: 46, series: [cNoDefectA, cDefectA, cNoDefectK, cDefectK] },
  { left: RH.l, top: 420, width: RH.w, height: 374, area: { l: 471, r: 796, t: 433, b: 724 }, xr: [-3.25, 13.97], yr: [-3.6, 2.92], xTicks: xTicksD, yTicks: yTicksD, yLabels: yTicksD.map(fmt), legend: legendAK, legendW: 72, legendFont: 9.5, tickGap: 18, titleGap: 46, yLabOff: 18, pc2Off: 46, series: [dNoDefectA, dDefectA, dNoDefectK, dDefectK] },
  { left: LH.l, top: 852, width: LH.w, height: 375, area: { l: 62, r: 387, t: 866, b: 1157 }, xr: [-3.03, 11.94], yr: [-2.52, 5.54], xTicks: xTicksE, yTicks: yTicksE, yLabels: yTicksE.map(fmt), legend: legendAK, legendW: 71, legendFont: 9.5, tickGap: 25, titleGap: 52, yLabOff: 19, pc2Off: 46, series: [eNoDefectA, eDefectA, eNoDefectK, eDefectK] },
  { left: RH.l, top: 852, width: RH.w, height: 375, area: { l: 471, r: 796, t: 866, b: 1157 }, xr: [-3.09, 13.95], yr: [-3.4, 3.43], xTicks: xTicksF, yTicks: yTicksF, yLabels: yTicksF.map(fmt), legend: legendAK, legendW: 72, legendFont: 9.5, tickGap: 25, titleGap: 52, yLabOff: 18, pc2Off: 46, series: [fNoDefectA, fDefectA, fNoDefectK, fDefectK] },
];

interface Cap { left: number; top: number; lh: number; w1: number; l1: string; l2: string; l2left: number }
const captions: Cap[] = [
  { left: 50, top: 361, lh: 28.5, w1: 360, l1: "(a) PCA that visualizes the 50/50", l2: "split of A", l2left: 50 },
  { left: 415, top: 361, lh: 28.5, w1: 378, l1: "(b) PCA that visualizes the 50/50", l2: "split of K", l2left: 453 },
  { left: 50, top: 793, lh: 28.5, w1: 368, l1: "(c) A and K with N1 normalization", l2: "applied to both", l2left: 50 },
  { left: 425, top: 793, lh: 28.5, w1: 365, l1: "(d) A and K with N2 normaliza-", l2: "tion applied to both", l2left: 428 },
  { left: 50, top: 1228, lh: 30, w1: 368, l1: "(e) A and K with N4 normalization", l2: "applied to A", l2left: 50 },
  { left: 428, top: 1228, lh: 30, w1: 369, l1: "(f) A and K with N5 normalization", l2: "applied to A", l2left: 428 },
];

const capFont: React.CSSProperties = { fontFamily: SERIF, fontSize: 24, letterSpacing: 0.9, color: "#111", position: "absolute", margin: 0 };

export default function App() {
  return (
    <div style={{ position: "absolute", left: 0, top: 0, width: 797, height: 1289, background: "#fff" }}>
      {panels.map((p, i) => (
        <Panel key={i} cfg={p} />
      ))}
      {captions.map((c, i) => (
        <React.Fragment key={"c" + i}>
          <div style={{ ...capFont, left: c.left, top: c.top, width: c.w1, lineHeight: c.lh + "px", textAlign: "justify", textAlignLast: "justify" as any }}>{c.l1}</div>
          <div style={{ ...capFont, left: c.l2left, top: c.top + c.lh, lineHeight: c.lh + "px", whiteSpace: "nowrap" }}>{c.l2}</div>
        </React.Fragment>
      ))}
    </div>
  );
}
